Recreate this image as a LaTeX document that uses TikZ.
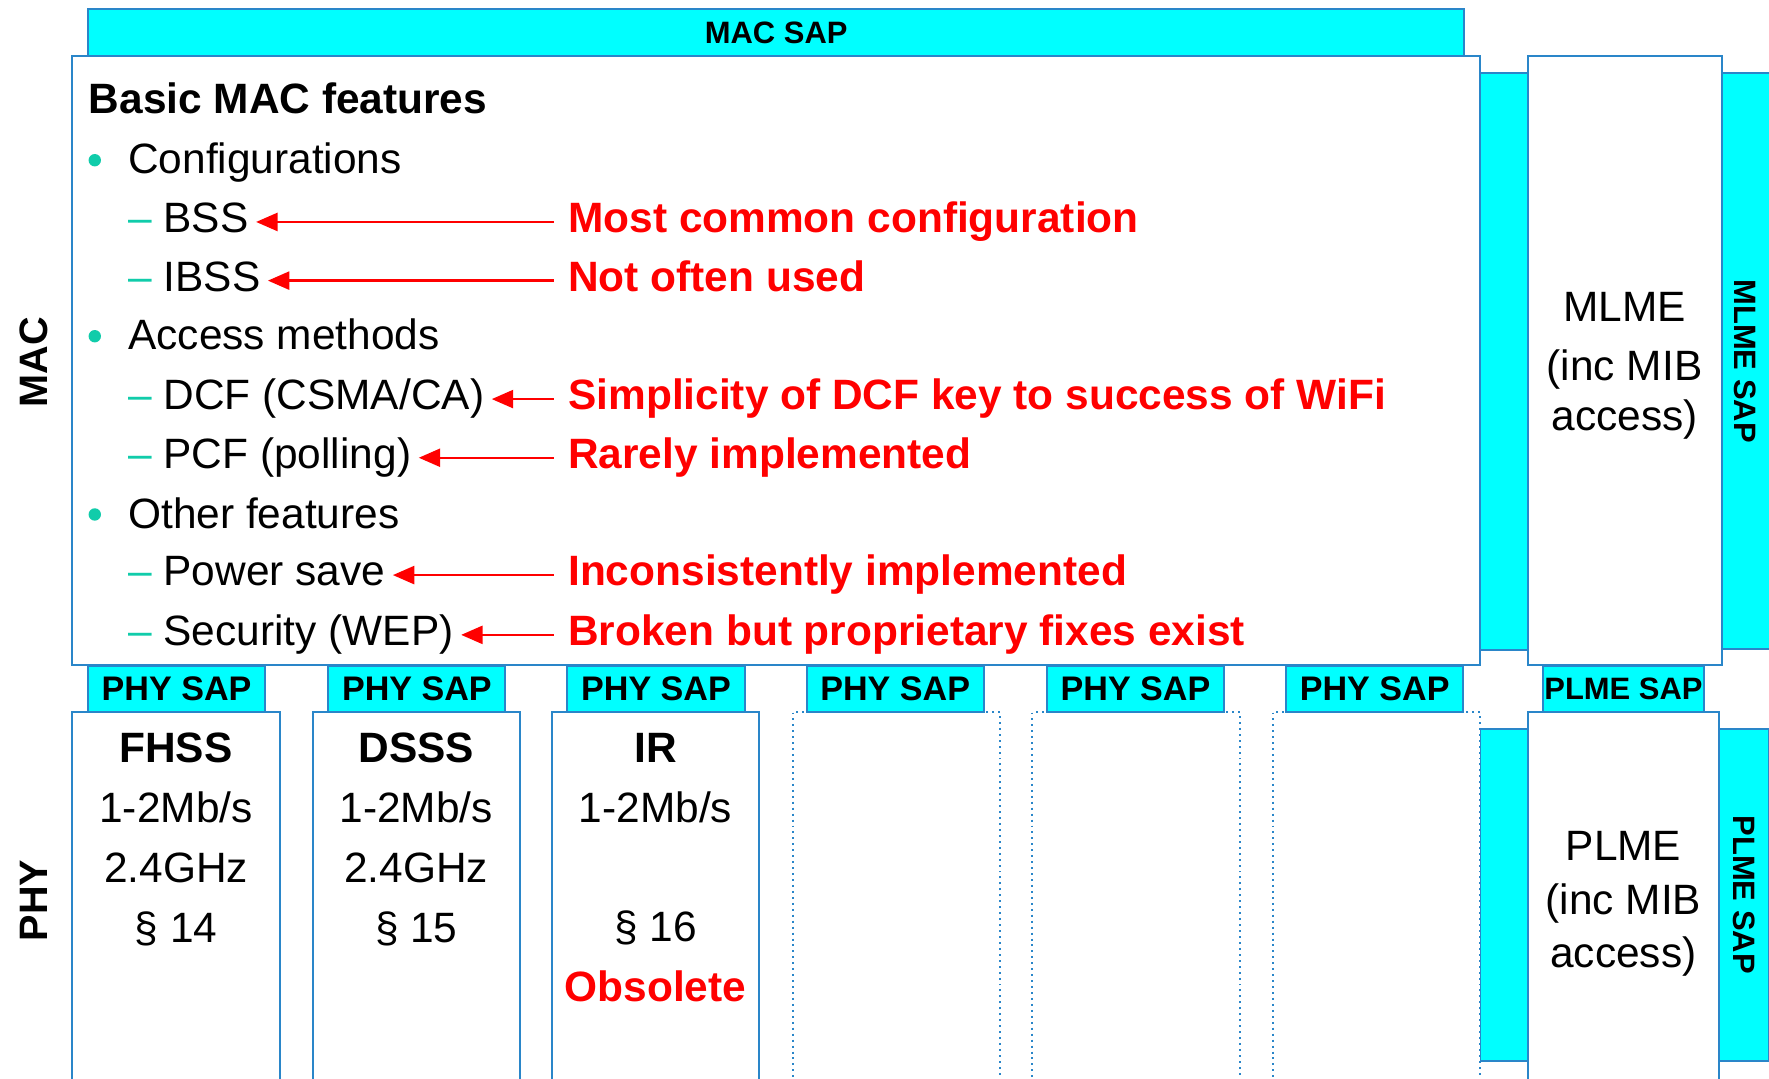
\documentclass[tikz,border=0pt]{standalone}
\usepackage{fontspec}
\setmainfont{Liberation Sans}
\usepackage{xcolor}
\usetikzlibrary{positioning, arrows.meta}

\definecolor{sapcyan}{HTML}{00FFFF}
\definecolor{boxblue}{HTML}{2A86C9}
\definecolor{bulletgreen}{HTML}{10CCAA}
\definecolor{notered}{HTML}{FF0000}

\newcommand{\subdash}{\textcolor{bulletgreen}{–}\ }

\tikzset{
    frame/.style={draw=boxblue, line width=0.5pt, fill=white, inner sep=0pt},
    sapbar/.style={draw=boxblue, line width=0.5pt, fill=sapcyan, inner sep=0pt},
    saptext/.style={font=\fontsize{7.8}{9}\selectfont\bfseries},
    phytext/.style={font=\fontsize{8.6}{9}\selectfont\bfseries},
    sidetext/.style={font=\fontsize{10}{12}\selectfont\bfseries},
    txt/.style={font=\fontsize{10.7}{15.1}\selectfont, inner sep=0pt, align=center},
    item/.style={anchor=base west, inner sep=0.6mm, font=\fontsize{10.7}{12}\selectfont},
    head/.style={item, font=\fontsize{10.7}{12}\selectfont\bfseries},
    note/.style={item, inner xsep=1.2mm, font=\fontsize{10.7}{12}\selectfont\bfseries, text=notered},
    pointer/.style={draw=notered, line width=0.6pt, -{Triangle[length=1.9mm, width=1.6mm]}},
    dot/.style={circle, fill=bulletgreen, inner sep=0pt, minimum size=1.1mm},
}

\begin{document}
\begin{tikzpicture}[x=0.1mm, y=-0.1mm]
    \useasboundingbox (0,0) rectangle (1568,956);
    \clip (0,0) rectangle (1568,956);

    % cyan side strips
    \node[sapbar, minimum width=4.2mm, minimum height=51.1mm] (macstrip) at (1333,320.5) {};
    \node[sapbar, minimum width=4.4mm, minimum height=51mm] (mlmesap) at (1547,320) {};
    \node[sapbar, minimum width=4.2mm, minimum height=29.4mm] (phystrip) at (1333,793) {};
    \node[sapbar, minimum width=4.4mm, minimum height=29.4mm] (plmesap) at (1546,793) {};
    \node[saptext, rotate=-90] (mlmesaplabel) at (mlmesap) {MLME SAP};
    \node[saptext, rotate=-90] (plmesaplabel) at (plmesap) {PLME SAP};

    % MAC layer
    \node[sapbar, saptext, minimum width=122mm, minimum height=4.2mm] (macsap) at (688,29) {MAC SAP};
    \node[frame, minimum width=124.8mm, minimum height=53.9mm] (macbox) at (688,319.5) {};
    \node[frame, minimum width=17.2mm, minimum height=53.9mm] (mlmebox) at (1440,319.5) {};
    \node[txt, anchor=north] (mlmetext) at (1440,258) {MLME\\(inc MIB\\[-0.95mm]access)};

    % PHY layer
    \foreach \cx [count=\i] in {156,369,581}
        \node[frame, minimum width=18.4mm, minimum height=35.9mm] (phy\i) at (\cx,810.5) {};
    \foreach \cx [count=\i from 4] in {794.5,1007,1220}
        \node[frame, densely dotted, minimum width=18.4mm, minimum height=35.9mm] (phy\i) at (\cx,810.5) {};
    \foreach \cx [count=\i] in {156.5,369.5,581.5,793.5,1006.5,1218.5}
        \node[sapbar, phytext, minimum width=15.7mm, minimum height=4.1mm] (physap\i) at (\cx,610.5) {PHY SAP};
    \node[sapbar, saptext, minimum width=14.2mm, minimum height=4.1mm] (plmesapbox) at (1439,610.5) {PLME SAP};
    \node[frame, minimum width=17mm, minimum height=35.9mm] (plmebox) at (1439,810.5) {};
    \node[txt, anchor=north] (plmetext) at (1439,736) {PLME\\[-0.55mm](inc MIB\\[-0.55mm]access)};

    \node[txt, anchor=north] (fhss) at (156,649) {\textbf{FHSS}\\1-2Mb/s\\2.4GHz\\§ 14};
    \node[txt, anchor=north] (dsss) at (369,649) {\textbf{DSSS}\\1-2Mb/s\\2.4GHz\\§ 15};
    \node[txt, anchor=north] (ir) at (581,649) {\textbf{IR}\\1-2Mb/s\\\mbox{}\\§ 16\\\textcolor{notered}{\textbf{Obsolete}}};

    % layer names
    \node[sidetext, rotate=90] (maclabel) at (30,321) {MAC};
    \node[sidetext, rotate=90] (phylabel) at (30,798) {PHY};

    % feature list
    \node[head] (title) at (72,101) {Basic MAC features};
    \node[dot] (dotcfg) at (84,142) {};
    \node[item] (cfg) at (107,154) {Configurations};
    \node[item] (bss) at (107,206) {\subdash BSS};
    \node[item] (ibss) at (107,258) {\subdash IBSS};
    \node[dot] (dotacc) at (84,298) {};
    \node[item] (acc) at (107,310) {Access methods};
    \node[item] (dcf) at (107,363) {\subdash DCF (CSMA/CA)};
    \node[item] (pcf) at (107,415) {\subdash PCF (polling)};
    \node[dot] (dototh) at (84,456) {};
    \node[item] (oth) at (107,468) {Other features};
    \node[item] (pwr) at (107,519) {\subdash Power save};
    \node[item] (sec) at (107,572) {\subdash Security (WEP)};

    % comments in red
    \node[note] (nbss) at (491,206) {Most common configuration};
    \node[note] (nibss) at (491,258) {Not often used};
    \node[note] (ndcf) at (491,363) {Simplicity of DCF key to success of WiFi};
    \node[note] (npcf) at (491,415) {Rarely implemented};
    \node[note] (npwr) at (491,519) {Inconsistently implemented};
    \node[note] (nsec) at (491,572) {Broken but proprietary fixes exist};

    \draw[pointer] (nbss.mid west) -- (bss.mid east);
    \draw[pointer] (nibss.mid west) -- (ibss.mid east);
    \draw[pointer] (ndcf.mid west) -- (dcf.mid east);
    \draw[pointer] (npcf.mid west) -- (pcf.mid east);
    \draw[pointer] (npwr.mid west) -- (pwr.mid east);
    \draw[pointer] (nsec.mid west) -- (sec.mid east);
\end{tikzpicture}
\end{document}
